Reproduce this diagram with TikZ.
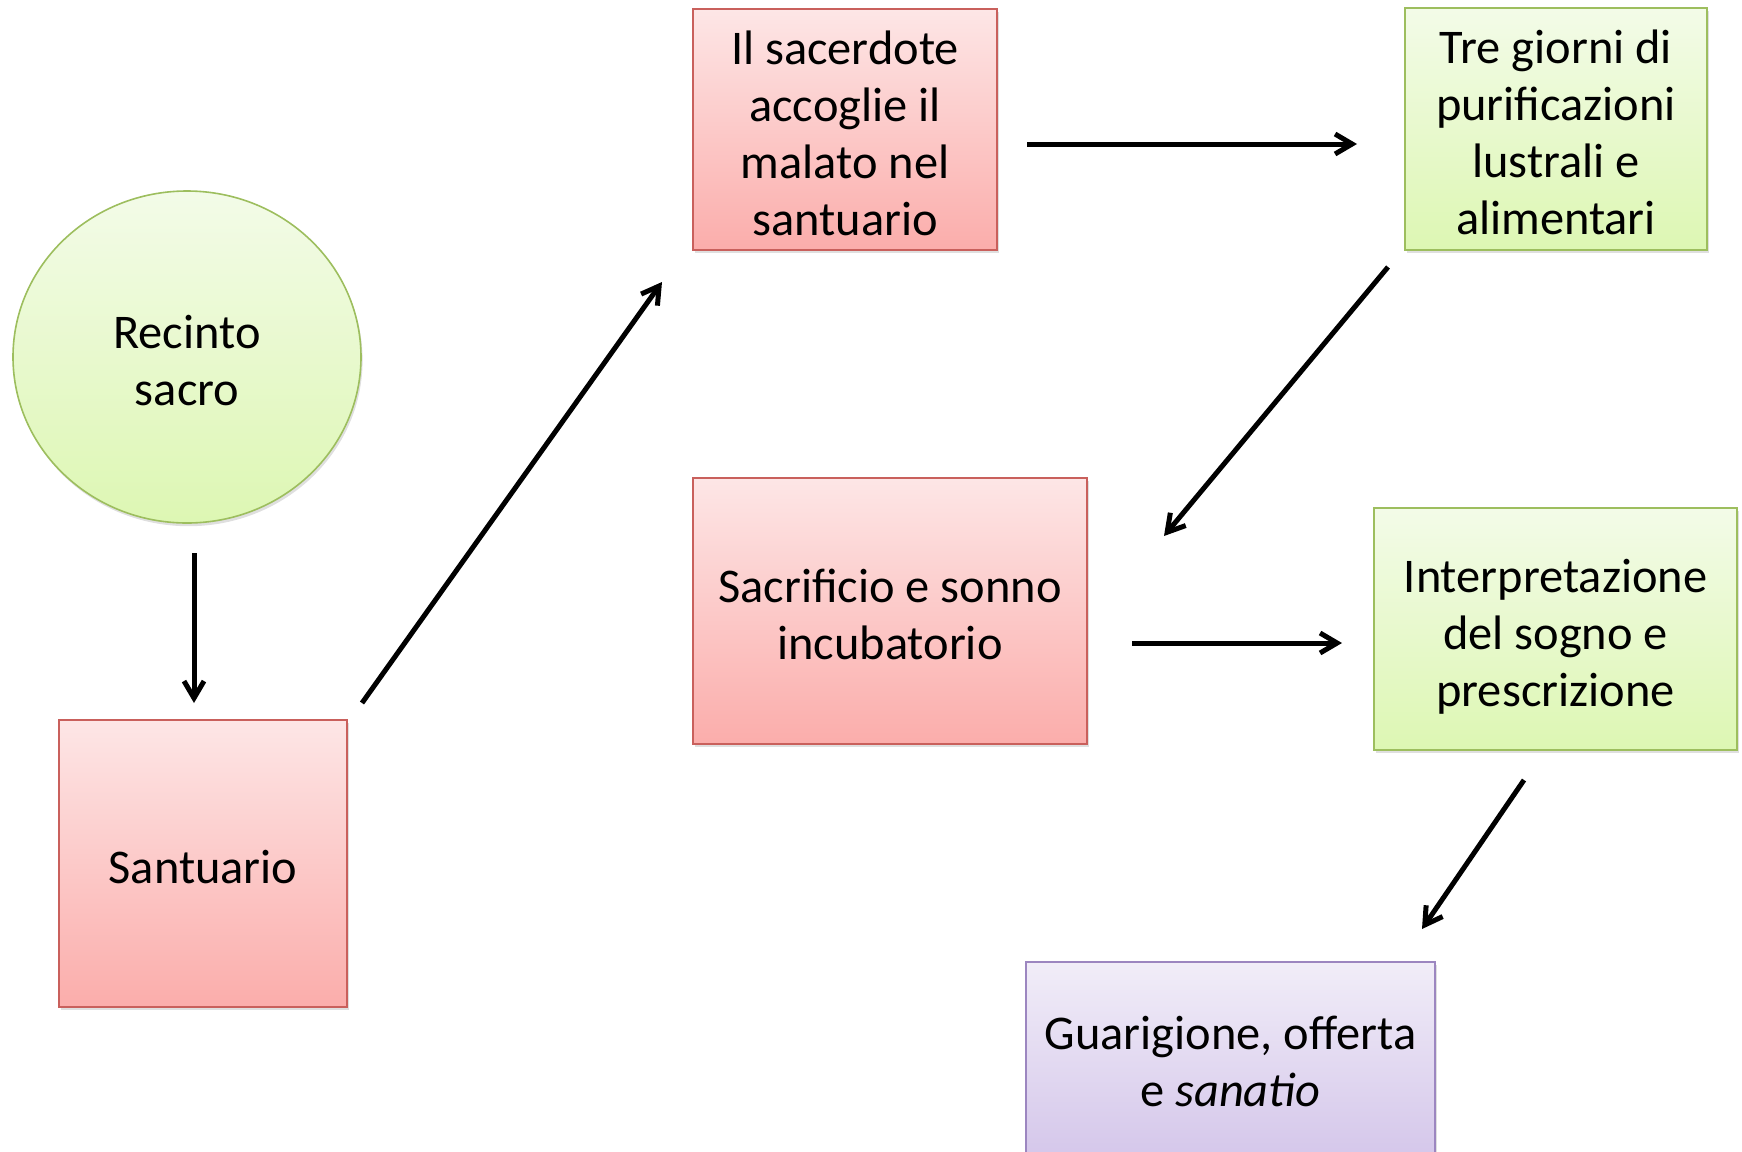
\documentclass[tikz,border=0pt]{standalone}
\usepackage{fontspec}
\setmainfont{Carlito}
\usetikzlibrary{arrows.meta,shapes.geometric,shadows}
\definecolor{redline}{HTML}{C9605C}
\definecolor{redtop}{HTML}{FDE6E6}
\definecolor{redbot}{HTML}{FBADAB}
\definecolor{greenline}{HTML}{9DBE5E}
\definecolor{greentop}{HTML}{F3FBE8}
\definecolor{greenbot}{HTML}{DDF7B3}
\definecolor{violetline}{HTML}{9C86C0}
\definecolor{violettop}{HTML}{F1EDF8}
\definecolor{violetbot}{HTML}{D4C6EA}
% uniform line boxes: first line tall strut, last line deep strut
\newcommand\hifirst[1][26pt]{\rule{0pt}{#1}}
\newcommand\lolast{\rule[-6pt]{0pt}{6pt}}
\tikzset{
  x=0.5pt, y=-0.5pt,
  base/.style={align=center, font=\fontsize{24.2}{28.5}\selectfont, inner sep=0pt,
    line width=0.8pt, drop shadow={opacity=0.25, shadow xshift=0.8pt, shadow yshift=-1.6pt}},
  redbox/.style={base, rectangle, draw=redline, top color=redtop, bottom color=redbot},
  greenbox/.style={base, rectangle, draw=greenline, top color=greentop, bottom color=greenbot},
  violetbox/.style={base, rectangle, draw=violetline, top color=violettop, bottom color=violetbot},
  greenoval/.style={base, ellipse, draw=greenline, top color=greentop, bottom color=greenbot},
  flow/.style={line width=2.5pt, -{Straight Barb[length=8.5pt, width=10pt, line width=2.5pt]}}
}
\begin{document}
\begin{tikzpicture}
\useasboundingbox (0,0) rectangle (1742,1152);

% process steps
\node[greenoval, minimum width=174pt, minimum height=166pt] (rec) at (187,357)
  {\hifirst Recinto\\sacro\lolast};
\node[redbox, minimum width=144pt, minimum height=143.5pt] (san) at (203,863.5)
  {\hifirst Santuario\lolast};
\node[redbox, minimum width=152pt, minimum height=120.5pt] (sac) at (845,129.5)
  {\hifirst Il sacerdote\\accoglie il\\malato nel\\santuario\lolast};
\node[greenbox, minimum width=151pt, minimum height=121pt] (tre) at (1556,129)
  {\hifirst Tre giorni di\\purificazioni\\lustrali e\\alimentari\lolast};
\node[redbox, minimum width=197pt, minimum height=133pt] (son) at (890,611)
  {\hifirst Sacrificio e sonno\\incubatorio\lolast};
\node[greenbox, minimum width=181.5pt, minimum height=121pt] (int) at (1555.5,629)
  {\hifirst Interpretazione\\del sogno e\\prescrizione\lolast};
\node[violetbox, minimum width=204.5pt, minimum height=99pt] (gua) at (1230.5,1061)
  {\hifirst[22.7pt]Guarigione, offerta\\e \textit{sanatio}\lolast};

% free-standing arrow ends
\coordinate (a1s) at (194,553);  \coordinate (a1e) at (194,703);
\coordinate (a2s) at (362,703);  \coordinate (a2e) at (662,282);
\coordinate (a3s) at (1027,144); \coordinate (a3e) at (1357,144);
\coordinate (a4s) at (1388,267); \coordinate (a4e) at (1164,536);
\coordinate (a5s) at (1132,643); \coordinate (a5e) at (1342,643);
\coordinate (a6s) at (1524,780); \coordinate (a6e) at (1422,929);

\draw[flow] (a1s) -- (a1e);
\draw[flow] (a2s) -- (a2e);
\draw[flow] (a3s) -- (a3e);
\draw[flow] (a4s) -- (a4e);
\draw[flow] (a5s) -- (a5e);
\draw[flow] (a6s) -- (a6e);
\end{tikzpicture}
\end{document}
